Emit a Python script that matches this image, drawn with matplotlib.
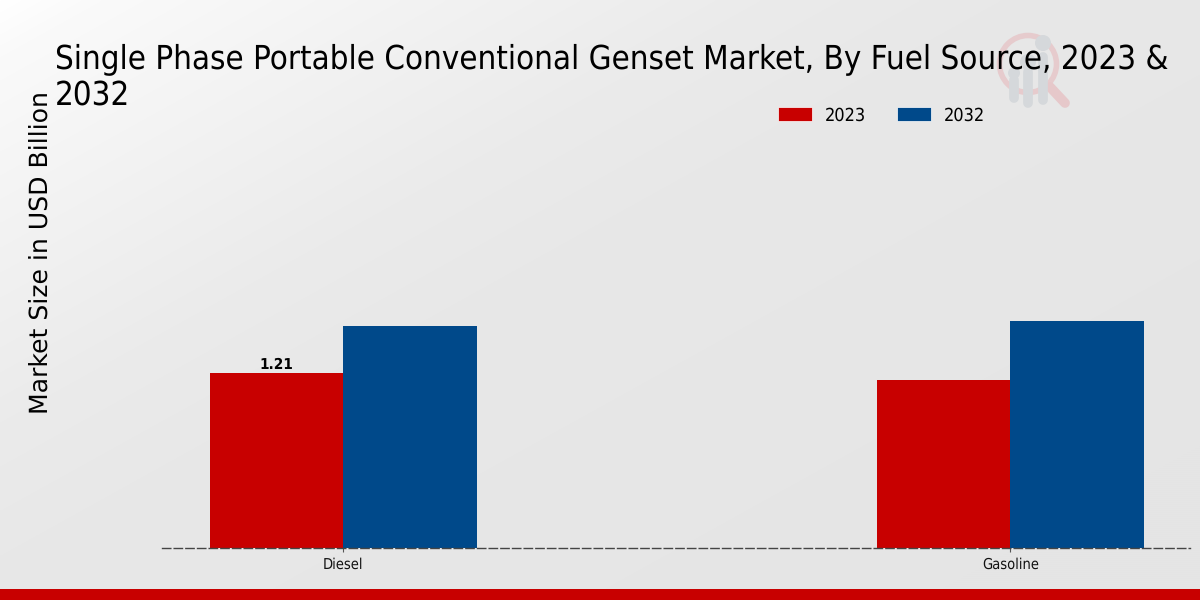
import numpy as np
import matplotlib
matplotlib.use("Agg")
import matplotlib.pyplot as plt
from matplotlib.patches import Circle, Rectangle

categories = ["Diesel", "Gasoline"]
years = ["2023", "2032"]
values_2023 = [1.21, 1.16]
values_2032 = [1.54, 1.575]
title = "Single Phase Portable Conventional Genset Market, By Fuel Source, 2023 &\n2032"
ylabel = "Market Size in USD Billion"
red, blue = "#C80000", "#00498A"
cond_kw = dict(family="DejaVu Sans", stretch="condensed")
plt.rcParams["text.hinting"] = "no_hinting"

fig = plt.figure(figsize=(12, 6), dpi=100)
bg = fig.add_axes([0, 0, 1, 1], zorder=0)
bg.set_axis_off()
yy, xx = np.mgrid[0:600:300j, 0:1200:600j]
d = xx + 1.8 * yy
grad = np.interp(d, [0, 100, 400, 760, 1000, 2000], [255, 250, 243, 235, 232, 229]) / 255
bg.imshow(np.dstack([grad] * 3), aspect="auto", extent=[0, 1200, 600, 0], interpolation="bilinear")
bg.set_xlim(0, 1200)
bg.set_ylim(600, 0)
bg.add_patch(Rectangle((0, 589), 1200, 11, color=red, lw=0))
# watermark logo
bg.add_patch(Circle((1028, 64), 28.5, fill=False, ec="#E6CBCD", lw=4))
bg.plot([1050, 1065], [87, 103], color="#E6C8CA", lw=7, solid_capstyle="round")
for cx, cy, r, top, bot in [(1014, 73, 6, 80, 98), (1028, 62, 8, 72, 103), (1043, 43, 8, 57, 100)]:
    bg.add_patch(Circle((cx, cy), r, color="#D5D8DB", lw=0))
    bg.plot([cx, cx], [top, bot], color="#D5D8DB", lw=7, solid_capstyle="round")

ax = fig.add_axes([162 / 1200, (600 - 548) / 600, (1190 - 162) / 1200, 0.70], zorder=1)
ax.patch.set_alpha(0)
x = np.arange(len(categories))
w = 0.2
ax.bar(x - w / 2, values_2023, w, color=red, linewidth=0, label=years[0], zorder=2)
ax.bar(x + w / 2, values_2032, w, color=blue, linewidth=0, label=years[1], zorder=2)
ax.set_xlim(-0.2718, 1.2694)
ax.set_ylim(0, 420 / 144.4)
for s in ["top", "left", "right"]:
    ax.spines[s].set_visible(False)
ax.spines["bottom"].set_color("#444444")
ax.spines["bottom"].set_linestyle((0, (6, 2.4)))
ax.spines["bottom"].set_linewidth(1.0)
ax.spines["bottom"].set_zorder(3)
ax.set_yticks([])
ax.set_xticks(x, categories, fontsize=10.5, color="#111111", **cond_kw)
ax.tick_params(axis="x", length=3, color="#555555", pad=3.5)
ax.text(x[0] - w / 2 - 0.001, values_2023[0] + 0.006, f"{values_2023[0]:.2f}", ha="center", va="bottom",
        fontsize=11, fontweight="bold", color="#000000", **cond_kw)
leg = ax.legend(loc="upper left", bbox_to_anchor=(777.6 / 1200, 1 - 107 / 600), bbox_transform=fig.transFigure,
                ncols=2, frameon=False, borderpad=0, borderaxespad=0,
                handlelength=1.88, handleheight=0.83, columnspacing=1.72, handletextpad=0.72,
                labelcolor="#000000", prop=dict(size=13, **cond_kw))
for h in leg.get_patches():
    h.set_edgecolor("white")
    h.set_linewidth(0.5)
fig.text(55 / 1200, 1 - 104.6 / 600, title, ha="left", va="baseline", fontsize=23.65, linespacing=1.2,
         color="#000000", zorder=5, **cond_kw)
fig.text(40.5 / 1200, 1 - 253 / 600, ylabel, rotation=90, ha="center", va="center", fontsize=18.1,
         color="#000000", zorder=5)
fig.savefig("out.png", dpi=100)
